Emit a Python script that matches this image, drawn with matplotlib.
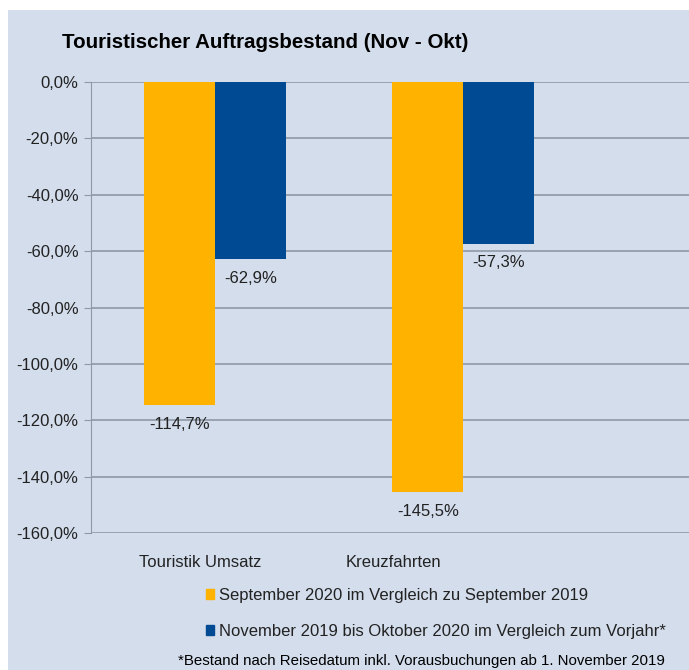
import matplotlib.pyplot as plt
import matplotlib.patches as mpatches
import numpy as np

plt.rcParams['font.family'] = ['Liberation Sans', 'DejaVu Sans']

categories = ['Touristik Umsatz', 'Kreuzfahrten']
series_names = ['September 2020 im Vergleich zu September 2019',
                'November 2019 bis Oktober 2020 im Vergleich zum Vorjahr*']
sep_values = [-114.7, -145.5]
nov_values = [-62.9, -57.3]
y_ticks = [0, -20, -40, -60, -80, -100, -120, -140, -160]

title = 'Touristischer Auftragsbestand (Nov - Okt)'
footnote = '*Bestand nach Reisedatum inkl. Vorausbuchungen ab 1. November 2019'

yellow = '#FFB300'
blue = '#004A93'
bg = '#D3DDEC'
grid = '#8E98A6'
txt = '#222222'


def pct(v):
    return f'{v:.1f}%'.replace('.', ',')


fig = plt.figure(figsize=(6.89, 6.70), dpi=100)
fig.patch.set_facecolor('white')
# light panel behind the chart
fig.patches.append(mpatches.Rectangle((8 / 689, 0), 1, 1 - 10 / 670,
                                      transform=fig.transFigure,
                                      facecolor=bg, edgecolor='none', zorder=-5))

ax = fig.add_axes([91 / 689, 1 - 533 / 670, 1 - 91 / 689, (533 - 82) / 670])
ax.set_zorder(2)
ax.patch.set_alpha(0)

x = np.arange(len(categories))
w = 0.285
b1 = ax.bar(x - w / 2, sep_values, w, color=yellow, zorder=3, label=series_names[0])
b2 = ax.bar(x + w / 2, nov_values, w, color=blue, zorder=3, label=series_names[1])

for bars, vals in [(b1, sep_values), (b2, nov_values)]:
    for r, v in zip(bars, vals):
        ax.annotate(pct(v), (r.get_x() + r.get_width() / 2, v),
                    xytext=(0, -8.5), textcoords='offset points',
                    ha='center', va='top', fontsize=12, color=txt)

ax.set_ylim(-160, 0)
ax.set_xlim(-0.5, 1.91)
ax.set_yticks(y_ticks)
ax.set_yticklabels([pct(v) for v in y_ticks], fontsize=12, color=txt)
ax.yaxis.grid(True, color=grid, linewidth=1.2, zorder=0)
ax.set_axisbelow(True)
ax.tick_params(axis='y', length=5, color=grid, pad=4)
ax.tick_params(axis='x', length=0)
ax.set_xticks([])
for s in ['top', 'right', 'bottom']:
    ax.spines[s].set_visible(False)
ax.spines['left'].set_color(grid)

# category labels sit left of the bar groups, as in the original
label_shift = [-11, -50]  # points
for xi, cat, dx in zip(x, categories, label_shift):
    ax.annotate(cat, (xi, -160), xytext=(dx, -16), textcoords='offset points',
                ha='center', va='top', fontsize=12, color=txt,
                annotation_clip=False)

fig.text(62 / 689, 1 - 42 / 670, title, fontsize=14.8, fontweight='bold',
         va='center', ha='left', color='black')

handles = [mpatches.Patch(color=yellow), mpatches.Patch(color=blue)]
fig.legend(handles, series_names, loc='upper left',
           bbox_to_anchor=(206 / 689, 1 - 588 / 670), frameon=False,
           fontsize=12, handlelength=0.5, handleheight=0.5, handletextpad=0.3,
           labelspacing=1.25, borderpad=0, borderaxespad=0, labelcolor=txt)

fig.text(421 / 689, 1 - 661 / 670, footnote, fontsize=10.8, ha='center',
         va='center', color='black')

fig.savefig('out.png', dpi=100, facecolor=fig.get_facecolor())
